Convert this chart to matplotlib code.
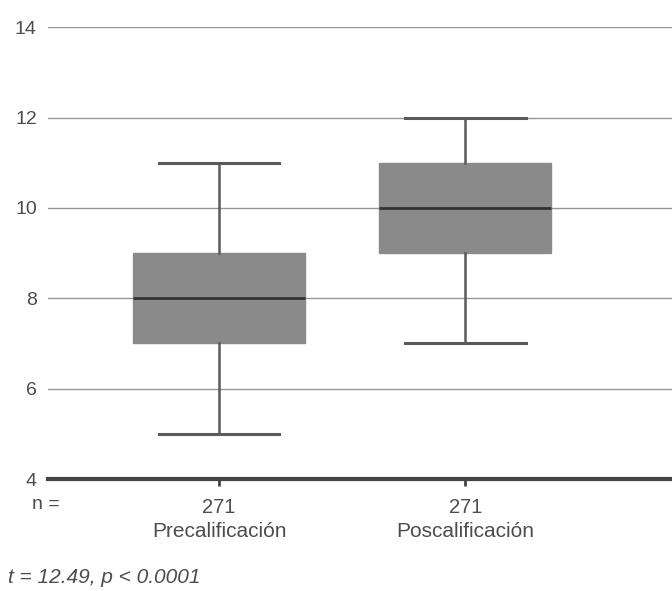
import matplotlib.pyplot as plt

plt.rcParams["font.family"] = ["Liberation Sans", "DejaVu Sans"]

groups = ["Precalificación", "Poscalificación"]
counts = [271, 271]
# box stats
whislo = [5, 7]
q1 = [7, 9]
med = [8, 10]
q3 = [9, 11]
whishi = [11, 12]
yticks = [4, 6, 8, 10, 12, 14]
note = "t = 12.49, p < 0.0001"

stats = []
for i in range(len(groups)):
    stats.append({"whislo": whislo[i], "q1": q1[i], "med": med[i],
                  "q3": q3[i], "whishi": whishi[i], "fliers": [], "label": ""})

fig = plt.figure(figsize=(6.72, 5.91), dpi=100)
ax = fig.add_axes([0.0714, 0.1895, 0.9286, 0.7645])

for y in yticks[1:]:
    ax.axhline(y, color="#959595", lw=1.0, zorder=0)

ax.bxp(stats, positions=[1, 2], widths=0.70, capwidths=0.49,
       patch_artist=True, showfliers=False,
       boxprops=dict(facecolor="#8a8a8a", edgecolor="#8a8a8a", lw=1),
       medianprops=dict(color="#333333", lw=2),
       whiskerprops=dict(color="#5a5a5a", lw=1.8),
       capprops=dict(color="#5a5a5a", lw=2.2))

ax.set_xlim(0.305, 2.84)
ax.set_ylim(4, 14)
ax.set_yticks(yticks)
ax.tick_params(axis="y", length=0, pad=8, labelsize=14, labelcolor="#4d4d4d")
ax.set_xticks([1, 2])
ax.set_xticklabels([])
ax.tick_params(axis="x", length=5, width=2, color="#444444", direction="out")

for s in ["top", "right", "left"]:
    ax.spines[s].set_visible(False)
ax.spines["bottom"].set_color("#444444")
ax.spines["bottom"].set_linewidth(3)

tr = ax.get_xaxis_transform()
ax.text(-0.003, -0.0575, "n =", transform=ax.transAxes, ha="center", va="center",
        fontsize=14, color="#4d4d4d")
for i, g in enumerate(groups):
    ax.text(i + 1, -0.062, str(counts[i]), transform=tr, ha="center", va="center",
            fontsize=14.5, color="#4d4d4d")
    ax.text(i + 1, -0.117, g, transform=tr, ha="center", va="center",
            fontsize=15, color="#4d4d4d")

fig.text(0.012, 0.022, note, ha="left", va="center", fontsize=15,
         style="italic", color="#4d4d4d")

fig.savefig("out.png", dpi=100)
